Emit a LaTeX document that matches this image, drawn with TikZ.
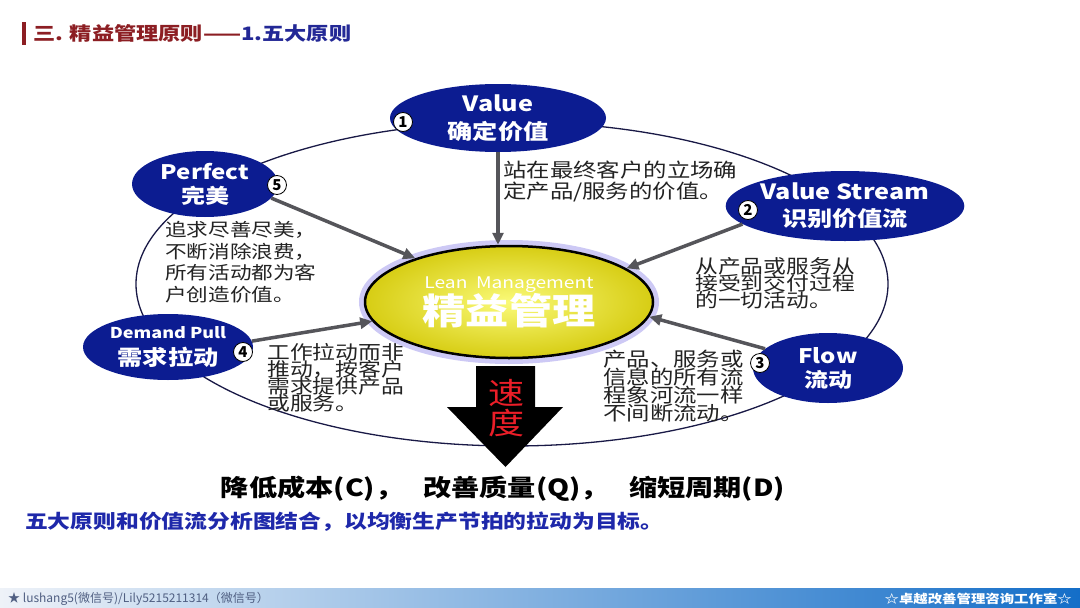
\documentclass[tikz,border=0pt]{standalone}
\usepackage{fontspec}
\setmainfont{Noto Sans CJK SC}
\newfontfamily\widecjk[FakeStretch=1.2]{Noto Sans CJK SC}
\usetikzlibrary{arrows.meta,shapes.geometric}
\definecolor{titlered}{RGB}{140,30,35}
\definecolor{titleblue}{RGB}{35,40,150}
\definecolor{navy}{RGB}{12,28,145}
\definecolor{ringblue}{RGB}{25,25,70}
\definecolor{arrowgray}{RGB}{85,85,90}
\definecolor{leanlight}{RGB}{250,250,120}
\definecolor{leandark}{RGB}{215,205,20}
\definecolor{glow}{RGB}{130,120,230}
\definecolor{notegray}{RGB}{35,35,35}
\definecolor{speedred}{RGB}{235,30,40}
\definecolor{goalblue}{RGB}{30,40,170}
\definecolor{footgray}{RGB}{80,95,130}
\definecolor{footlight}{RGB}{238,242,248}
\definecolor{footmid}{RGB}{140,185,225}
\definecolor{footblue}{RGB}{20,110,200}
\newcommand{\tightlines}{\lineskiplimit=-100pt\relax}

\begin{document}
\begin{tikzpicture}[x=1pt,y=-1pt,
  principle/.style={ellipse,fill=navy,text=white,inner sep=0pt,align=center},
  lean/.style={ellipse,draw=black,line width=2.5pt,inner color=leanlight,outer color=leandark,
    preaction={draw=glow,line width=12pt,opacity=0.4},inner sep=0pt,align=center,text=white},
  badge/.style={circle,draw=black,fill=white,line width=0.8pt,inner sep=0pt,minimum size=19pt,
    font=\bfseries\fontsize{15}{15}\selectfont},
  note/.style={anchor=north west,inner sep=0pt,align=left,text=notegray},
  pointer/.style={draw=arrowgray,line width=3.5pt,-{Triangle[length=12pt,width=11pt]}}]
  \useasboundingbox (0,0) rectangle (1080,608);
  \fill[white] (0,0) rectangle (1080,608);

  \fill[titlered] (22,22) rectangle (26,45);
  \node[anchor=west,inner sep=0pt,font=\widecjk\bfseries\fontsize{18.5}{19}\selectfont] (title) at (33,33) {\textcolor{titlered}{三. 精益管理原则——}\textcolor{titleblue}{1.五大原则}};

  \draw[ringblue,line width=1.3pt] (512,284) ellipse [x radius=376pt,y radius=162pt];

  \node[lean,minimum width=288pt,minimum height=112pt,font=\widecjk\bfseries\fontsize{36}{27}\selectfont] (lean) at (509,302) {{\mdseries\fontsize{16}{27}\selectfont Lean\ \ Management}\\精益管理};
  \node[principle,minimum width=216pt,minimum height=68pt,font=\widecjk\bfseries\fontsize{21}{28}\selectfont] (value) at (498,118) {Value\\确定价值};
  \node[principle,minimum width=146pt,minimum height=66pt,font=\widecjk\bfseries\fontsize{20}{24}\selectfont] (perfect) at (205,184) {Perfect\\完美};
  \node[principle,minimum width=208pt,minimum height=70pt,font=\widecjk\bfseries\fontsize{21}{27}\selectfont] (vstream) at (845,206) {Value Stream\\识别价值流};
  \node[principle,minimum width=170pt,minimum height=66pt,font=\widecjk\bfseries\fontsize{21}{27}\selectfont] (dpull) at (168,347) {{\fontsize{15}{27}\selectfont Demand Pull}\\需求拉动};
  \node[principle,minimum width=150pt,minimum height=70pt,font=\widecjk\bfseries\fontsize{20}{24}\selectfont] (flow) at (828,368) {Flow\\流动};

  \draw[pointer] (value.south) -- (value.south |- lean.north);
  \draw[pointer] (perfect.-12) -- (lean.155);
  \draw[pointer] (vstream.190) -- (lean.16);
  \draw[pointer] (dpull.4) -- (lean.188);
  \draw[pointer] (flow.163) -- (lean.-6);

  \node[badge] (b1) at (403,122) {1};
  \node[badge] (b2) at (748,210) {2};
  \node[badge] (b3) at (760,363) {3};
  \node[badge] (b4) at (243,352) {4};
  \node[badge] (b5) at (277,185) {5};

  \node[note,font=\widecjk\fontsize{19.5}{21}\selectfont\tightlines] (valuenote) at (503,160.5) {站在最终客户的立场确\\定产品/服务的价值。};
  \node[note,font=\widecjk\fontsize{18}{21.7}\selectfont\tightlines] (perfectnote) at (165,221) {追求尽善尽美，\\不断消除浪费，\\所有活动都为客\\户创造价值。};
  \node[note,font=\widecjk\fontsize{19}{17}\selectfont\tightlines] (vstreamnote) at (695,257) {从产品或服务从\\接受到交付过程\\的一切活动。};
  \node[note,font=\widecjk\fontsize{19}{17}\selectfont\tightlines] (dpullnote) at (267,343.5) {工作拉动而非\\推动，按客户\\需求提供产品\\或服务。};
  \node[note,font=\widecjk\fontsize{19.5}{18}\selectfont\tightlines] (flownote) at (603,350) {产品、服务或\\信息的所有流\\程象河流一样\\不间断流动。};

  \coordinate (speedtop) at (505.5,366);
  \fill[black] (speedtop) ++(-29.5,0) -- ++(59,0) -- ++(0,41) -- ++(28,0) -- ++(-57.5,60) -- ++(-58.5,-60) -- ++(29,0) -- cycle;
  \node[align=center,text=speedred,font=\widecjk\fontsize{30}{30}\selectfont] (speed) at (506,408) {速\\度};

  \node[font=\widecjk\bfseries\fontsize{23.5}{24}\selectfont] (result) at (503,489) {降低成本(C)，\hspace{20pt}改善质量(Q)，\hspace{20pt}缩短周期(D)};
  \node[anchor=west,inner sep=0pt,text=goalblue,font=\widecjk\bfseries\fontsize{19}{19}\selectfont] (goal) at (25,522) {五大原则和价值流分析图结合，以均衡生产节拍的拉动为目标。};

  \shade[left color=footlight,middle color=footmid,right color=footblue] (0,588) rectangle (1080,608);
  \node[anchor=west,inner sep=0pt,text=footgray,font=\fontsize{12}{12}\selectfont] (contact) at (8,598.5) {★ lushang5(微信号)/Lily5215211314（微信号）};
  \node[anchor=east,inner sep=0pt,text=white,font=\widecjk\bfseries\fontsize{12}{12}\selectfont] (studio) at (1072,598.5) {☆卓越改善管理咨询工作室☆};
\end{tikzpicture}
\end{document}
